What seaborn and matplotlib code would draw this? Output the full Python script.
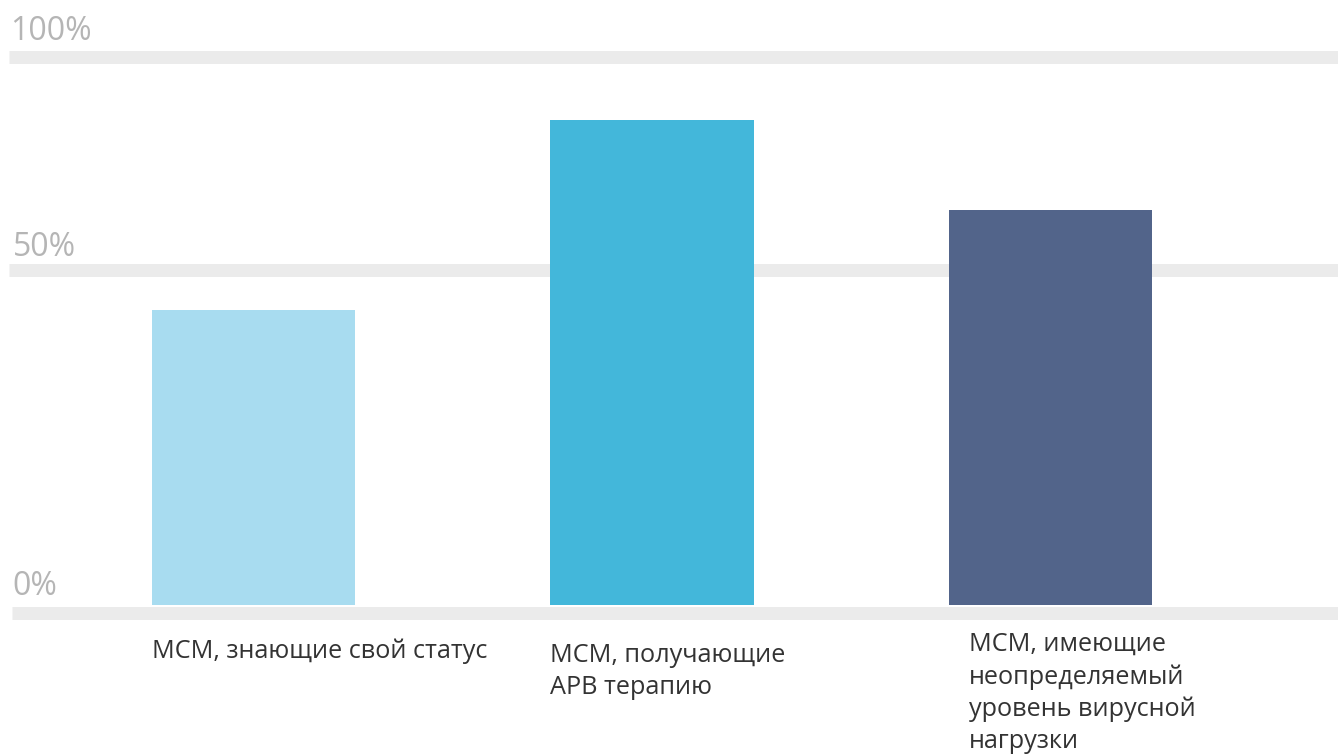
import numpy as np
import pandas as pd
import matplotlib
matplotlib.use("Agg")
import matplotlib.pyplot as plt
import matplotlib.transforms as mtransforms
import seaborn as sns

# ---- data ----
categories = ["МСМ, знающие свой статус",
              "МСМ, получающие\nАРВ терапию",
              "МСМ, имеющие\nнеопределяемый\nуровень вирусной\nнагрузки"]
values = [44.0, 85.1, 64.0]
bar_colors = ["#a8dcf0", "#43b7da", "#52648a"]
tick_values = [0, 50, 100]
tick_labels = ["0%", "50%", "100%"]

sns.set_theme(style="white")
plt.rcParams["font.family"] = ["Open Sans", "DejaVu Sans"]

W, H = 1338, 754
fig = plt.figure(figsize=(W / 100, H / 100), dpi=100)
ax_left_px = 9
ax = fig.add_axes([ax_left_px / W, 0, (W - ax_left_px) / W, 1])

df = pd.DataFrame({"cat": categories, "val": values})
sns.barplot(data=df, x="cat", y="val", hue="cat", palette=bar_colors,
            width=0.51, legend=False, ax=ax, saturation=1, zorder=3,
            linewidth=0, edgecolor="none")

# piecewise-linear (non-uniform) value scale as in the infographic
xp = np.array([-100.0, 0.0, 50.0, 100.0, 300.0])
fp = np.array([-670.0, 0.0, 335.0, 548.5, 548.5 + 854.0])

def fwd(v):
    return np.interp(v, xp, fp)

def inv(u):
    return np.interp(u, fp, xp)

ax.set_yscale("function", functions=(fwd, inv))
baseline_px = 605
ax.set_ylim(inv(-(H - baseline_px)), inv(baseline_px))

unit = 398.5
centre0 = 253.5
ax.set_xlim(-(centre0 - ax_left_px) / unit, 2 + (W - 1050.5) / unit)

for s in ax.spines.values():
    s.set_visible(False)
ax.set_xticks([])
ax.set_yticks([])
ax.set_xlabel("")
ax.set_ylabel("")

# grey bands + labels
band_lw = 13 * 72 / 100
band_offsets = {0: -7.5, 50: 0.0, 100: 0.0}
band_xstart = {0: 3 / (W - ax_left_px), 50: 0.0, 100: 0.0}
label_rise = {0: 17.5, 50: 14.0, 100: 16.5}
label_x = {0: 3, 50: 4, 100: 1}
for tv, tl in zip(tick_values, tick_labels):
    tr = mtransforms.offset_copy(ax.get_yaxis_transform(), fig=fig, x=0,
                                 y=band_offsets[tv], units="dots")
    ax.plot([band_xstart[tv], 1.0], [tv, tv], color="#ebebeb", lw=band_lw,
            transform=tr, solid_capstyle="butt", zorder=1, clip_on=False)
    trt = mtransforms.offset_copy(ax.get_yaxis_transform(), fig=fig,
                                  x=label_x[tv],
                                  y=band_offsets[tv] + label_rise[tv],
                                  units="dots")
    ax.text(0, tv, tl, transform=trt,
            ha="left", va="baseline", fontsize=23, color="#b5b5b5")

# category labels under bars
label_dx = [0, 0, 20]
label_dy = [-34, -38, -27]
w = 0.51
for i, cat in enumerate(categories):
    tr = mtransforms.offset_copy(ax.transData, fig=fig, x=label_dx[i],
                                 y=label_dy[i], units="dots")
    ax.text(i - w / 2, 0, cat, transform=tr, ha="left", va="top",
            fontsize=18.2, color="#333333", linespacing=1.36)

fig.savefig("out.png", dpi=100)
